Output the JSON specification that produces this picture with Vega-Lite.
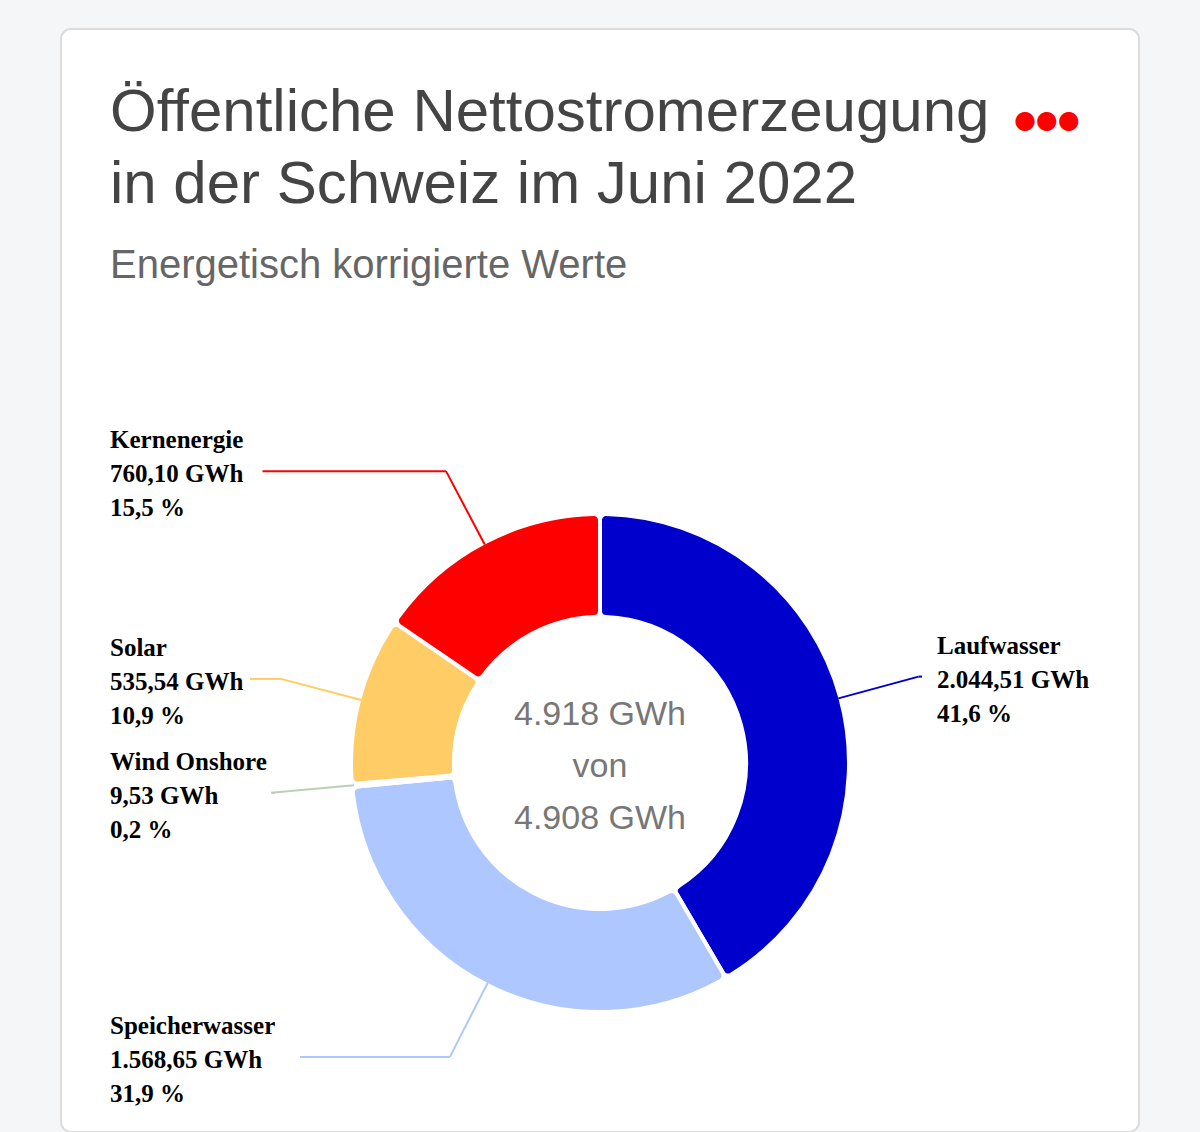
{
  "$schema": "https://vega.github.io/schema/vega-lite/v6.json",
  "autosize": {"type": "none"},
  "padding": {"left": 61, "top": 29, "right": 61, "bottom": 0},
  "width": 1078,
  "height": 1103,
  "background": "#f5f6f8",
  "config": {
    "view": {"fill": "white", "stroke": "#dddddd", "strokeWidth": 2, "cornerRadius": 10},
    "locale": {"number": {"decimal": ",", "thousands": ".", "grouping": [3], "currency": ["", " €"]}}
  },
  "title": {
    "text": ["Öffentliche Nettostromerzeugung", "in der Schweiz im Juni 2022"],
    "subtitle": "Energetisch korrigierte Werte",
    "anchor": "start",
    "frame": "group",
    "orient": "top",
    "offset": -258,
    "dx": 49,
    "font": "Liberation Sans",
    "fontSize": 60,
    "fontWeight": "normal",
    "color": "#444444",
    "lineHeight": 72,
    "subtitleFont": "Liberation Sans",
    "subtitleFontSize": 40,
    "subtitleColor": "#666666",
    "subtitlePadding": 30,
    "subtitleLineHeight": 40
  },
  "data": {
    "values": [
      {"quelle": "Laufwasser", "gwh": 2044.51},
      {"quelle": "Speicherwasser", "gwh": 1568.65},
      {"quelle": "Wind Onshore", "gwh": 9.53},
      {"quelle": "Solar", "gwh": 535.54},
      {"quelle": "Kernenergie", "gwh": 760.10}
    ]
  },
  "transform": [
    {"window": [{"op": "sum", "field": "gwh", "as": "cum"}], "frame": [null, 0], "ignorePeers": true},
    {"joinaggregate": [{"op": "sum", "field": "gwh", "as": "total"}]},
    {"calculate": "2*PI*(datum.cum - datum.gwh)/datum.total", "as": "a0"},
    {"calculate": "2*PI*datum.cum/datum.total", "as": "a1"},
    {"calculate": "(datum.a0 + datum.a1)/2", "as": "mid"},
    {"calculate": "sin(datum.mid) < 0", "as": "links"},
    {"calculate": "247*sin(datum.mid)", "as": "x0"},
    {"calculate": "247*cos(datum.mid)", "as": "y0"},
    {"calculate": "330*sin(datum.mid)", "as": "x1"},
    {"calculate": "330*cos(datum.mid)", "as": "y1"},
    {"calculate": "[datum.quelle, format(datum.gwh, ',.2f') + ' GWh', format(100*datum.gwh/datum.total, '.1f') + ' %']", "as": "label"},
    {"calculate": "datum.links ? -490 : 337", "as": "lx"},
    {"calculate": "datum.links ? -490 + 12.5*max(length(datum.label[0]), length(datum.label[1])) + 15 : 322", "as": "x2"}
  ],
  "layer": [
    {
      "mark": {"type": "arc", "outerRadius": 249, "innerRadius": 146, "stroke": "white", "strokeWidth": 4, "cornerRadius": 6},
      "encoding": {
        "x": {"datum": 0, "type": "quantitative", "scale": {"domain": [-539, 539], "nice": false, "zero": false}, "axis": null},
        "y": {"datum": 0, "type": "quantitative", "scale": {"domain": [-369, 734], "nice": false, "zero": false}, "axis": null},
        "theta": {"field": "a0", "type": "quantitative", "scale": null},
        "theta2": {"field": "a1"},
        "color": {"field": "quelle", "type": "nominal", "legend": null,
          "scale": {"domain": ["Laufwasser", "Speicherwasser", "Wind Onshore", "Solar", "Kernenergie"],
                    "range": ["#0000cc", "#aec8ff", "#b9d1b4", "#ffcc66", "#ff0000"]}}
      }
    },
    {
      "mark": {"type": "rule", "strokeWidth": 2},
      "encoding": {
        "x": {"field": "x0", "type": "quantitative", "scale": {"domain": [-539, 539], "nice": false, "zero": false}, "axis": null},
        "y": {"field": "y0", "type": "quantitative", "scale": {"domain": [-369, 734], "nice": false, "zero": false}, "axis": null},
        "x2": {"field": "x1"},
        "y2": {"field": "y1"},
        "color": {"field": "quelle", "type": "nominal", "legend": null}
      }
    },
    {
      "mark": {"type": "rule", "strokeWidth": 2},
      "encoding": {
        "x": {"field": "x1", "type": "quantitative", "axis": null},
        "y": {"field": "y1", "type": "quantitative", "axis": null},
        "x2": {"field": "x2"},
        "y2": {"field": "y1"},
        "color": {"field": "quelle", "type": "nominal", "legend": null}
      }
    },
    {
      "mark": {"type": "text", "align": "left", "baseline": "middle", "dy": -31, "font": "Liberation Serif", "fontWeight": "bold", "fontSize": 25, "lineHeight": 34, "color": "#000000"},
      "encoding": {
        "x": {"field": "lx", "type": "quantitative", "axis": null},
        "y": {"field": "y1", "type": "quantitative", "axis": null},
        "text": {"field": "label", "type": "nominal"}
      }
    },
    {
      "data": {"values": [{"angezeigt": 4918.33, "gesamt": 4908}]},
      "transform": [
        {"calculate": "[format(datum.angezeigt, ',.0f') + ' GWh', 'von', format(datum.gesamt, ',.0f') + ' GWh']", "as": "mitte"}
      ],
      "mark": {"type": "text", "align": "center", "baseline": "middle", "dy": -48, "font": "Liberation Sans", "fontSize": 34, "lineHeight": 52, "color": "#777777"},
      "encoding": {
        "x": {"datum": 0, "type": "quantitative", "axis": null},
        "y": {"datum": 0, "type": "quantitative", "axis": null},
        "text": {"field": "mitte", "type": "nominal"}
      }
    },
    {
      "data": {"values": [{"symbol": "●●●"}]},
      "mark": {"type": "text", "align": "center", "baseline": "middle", "font": "DejaVu Sans", "fontSize": 25, "color": "#ff0000"},
      "encoding": {
        "x": {"datum": 447, "type": "quantitative", "axis": null},
        "y": {"datum": 643, "type": "quantitative", "axis": null},
        "text": {"field": "symbol", "type": "nominal"}
      }
    }
  ]
}
